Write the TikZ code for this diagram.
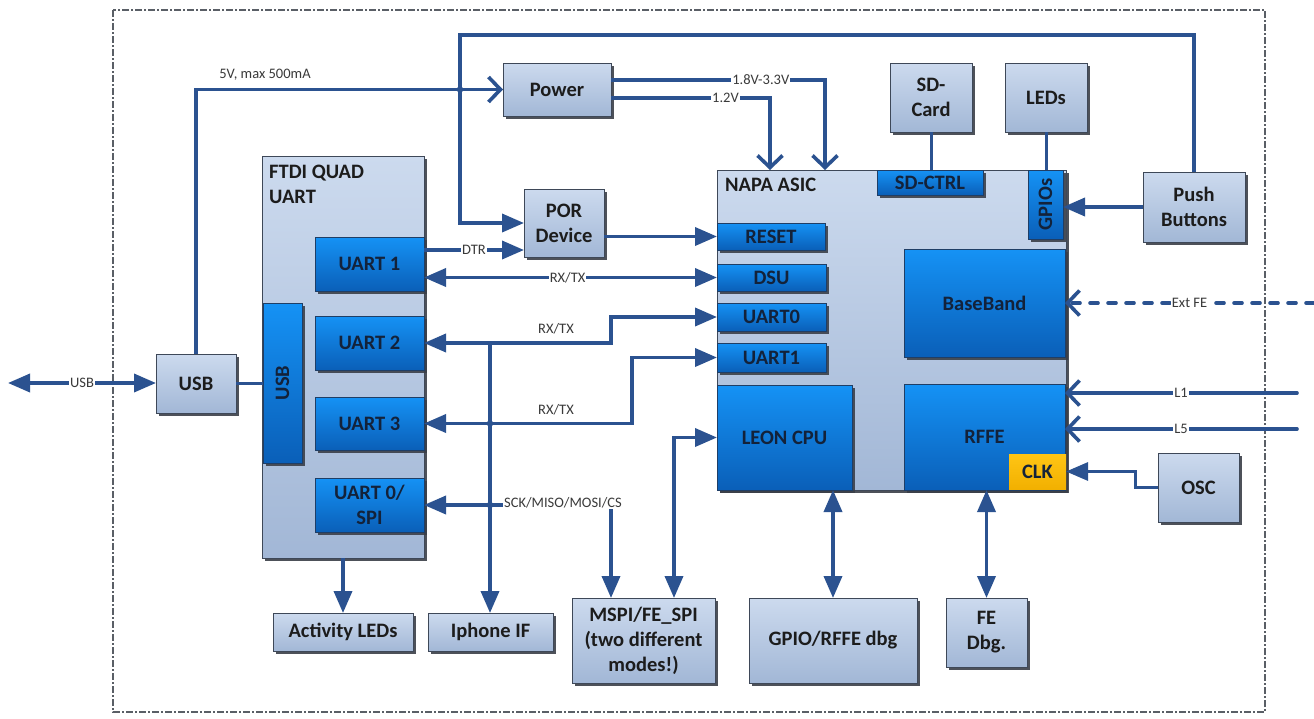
\documentclass[tikz,border=0pt]{standalone}
\usepackage{fontspec}
\setmainfont{Carlito}
\usetikzlibrary{arrows.meta,shadows}
\definecolor{ln}{HTML}{2B5290}
\definecolor{bdr}{HTML}{3E4858}
\definecolor{ltop}{HTML}{CCDAEE}
\definecolor{lbot}{HTML}{A2B7D6}
\definecolor{btop}{HTML}{1592F5}
\definecolor{bbot}{HTML}{0A5FB8}
\definecolor{bbdr}{HTML}{1F3E66}
\definecolor{shd}{HTML}{3A3F48}
\definecolor{ctop}{HTML}{FFC515}
\definecolor{cbot}{HTML}{F2B000}
\definecolor{txt}{HTML}{1C1C1C}
\definecolor{btxt}{HTML}{13223A}
\definecolor{ltxt}{HTML}{3A3A3A}
\definecolor{frame}{HTML}{5A5F66}
\newcommand{\mybox}[7]{\node[#1, minimum width={(#5-#3)*1pt}, minimum height={(#6-#4)*1pt}] (#2) at ({(#3+#5)/2},{(#4+#6)/2}) {#7};}
\tikzset{
  bigfont/.style={font=\fontsize{20.5}{25}\selectfont\bfseries},
  lbox/.style={draw=bdr, line width=0.9pt, top color=ltop, bottom color=lbot,
    drop shadow={shadow xshift=3pt, shadow yshift=-3pt, fill=shd, opacity=0.9},
    inner sep=1pt, outer sep=0pt, align=center, text=txt, bigfont},
  bbox/.style={draw=bbdr, line width=0.7pt, top color=btop, bottom color=bbot,
    drop shadow={shadow xshift=2.5pt, shadow yshift=-2.5pt, fill=shd, opacity=0.9},
    inner sep=1pt, outer sep=0pt, align=center, text=btxt, bigfont},
  cbox/.style={draw=none, top color=ctop, bottom color=cbot, inner sep=1pt, outer sep=0pt, text=btxt, bigfont},
  conn/.style={draw=ln, line width=3.6pt},
  thinconn/.style={draw=ln, line width=3pt},
  tri/.tip={Triangle[length=22pt,width=18pt]},
  chev/.tip={Straight Barb[length=12pt,width=25pt]},
  slab/.style={fill=white, inner sep=1pt, text=ltxt, font=\fontsize{14.5}{16}\selectfont},
  flab/.style={inner sep=1pt, text=ltxt, font=\fontsize{14.5}{16}\selectfont},
}
\begin{document}
\begin{tikzpicture}[x=1pt,y=-1pt]
\useasboundingbox (0,0) rectangle (1314,718);
\fill[white] (0,0) rectangle (1314,718);
% outer frame
\draw[frame, line width=1.2pt, dash pattern=on 7pt off 2pt on 2pt off 2pt] (113,10) rectangle (1265,712);

% big containers
\mybox{lbox}{ftdi}{262}{156}{424}{558}{}
\mybox{lbox}{napa}{717}{170}{1066}{490}{}
\node[anchor=north west, align=left, text=txt, bigfont, inner sep=0pt] (ftdilab) at (269,165) {FTDI QUAD\\UART};
\node[anchor=north west, text=txt, bigfont, inner sep=0pt] (napalab) at (725,178) {NAPA ASIC};

% light boxes
\mybox{lbox}{power}{503}{63}{611}{116}{Power}
\mybox{lbox}{por}{524}{189}{604}{257}{POR\\Device}
\mybox{lbox}{sdcard}{890}{63}{972}{132}{SD-\\Card}
\mybox{lbox}{leds}{1005}{63}{1087}{132}{LEDs}
\mybox{lbox}{push}{1143}{172}{1245}{242}{Push\\Buttons}
\mybox{lbox}{usb}{156}{354}{236}{413}{USB}
\mybox{lbox}{osc}{1158}{453}{1239}{522}{OSC}
\mybox{lbox}{act}{273}{613}{413}{651}{Activity LEDs}
\mybox{lbox}{iphone}{428}{613}{553}{651}{Iphone IF}
\mybox{lbox}{mspi}{572}{598}{715}{683}{MSPI/FE\_SPI\\(two different\\modes!)}
\mybox{lbox}{gdbg}{749}{598}{917}{683}{GPIO/RFFE dbg}
\mybox{lbox}{fedbg}{946}{598}{1027}{667}{FE\\Dbg.}

% FTDI blocks
\mybox{bbox}{usbi}{263}{303}{302}{463}{\rotatebox{90}{USB}}
\mybox{bbox}{uartA}{315}{237}{424}{291}{UART 1}
\mybox{bbox}{uartB}{315}{316}{424}{370}{UART 2}
\mybox{bbox}{uartC}{315}{397}{424}{450}{UART 3}
\mybox{bbox}{uspi}{315}{478}{424}{532}{UART 0/\\SPI}

% NAPA blocks
\mybox{bbox}{sdctrl}{877}{170}{983}{195}{SD-CTRL}
\mybox{bbox}{gpios}{1028}{170}{1063}{239}{\rotatebox{90}{GPIOs}}
\mybox{bbox}{reset}{717}{223}{825}{250}{RESET}
\mybox{bbox}{dsu}{717}{264}{826}{291}{DSU}
\mybox{bbox}{nuA}{717}{303}{826}{331}{UART0}
\mybox{bbox}{nuB}{717}{343}{826}{372}{UART1}
\mybox{bbox}{leon}{717}{385}{852}{490}{LEON CPU}
\mybox{bbox}{bb}{904}{249}{1065}{357}{BaseBand}
\mybox{bbox}{rffe}{904}{384}{1065}{490}{RFFE}
\mybox{cbox}{clk}{1009}{454}{1066}{489}{CLK}

% coordinates
\coordinate (tl) at (460,35);
\coordinate (p18) at (825,80);
\coordinate (p12) at (770,98);
\coordinate (j2) at (611,0);
\coordinate (j3) at (632,0);
\coordinate (j4) at (674,0);
\coordinate (j5) at (490,343);
\coordinate (j6) at (1135,0);
\coordinate (usbext) at (8,383);
\coordinate (ef) at (1314,303);
\coordinate (lA) at (1297,393);
\coordinate (lB) at (1297,429);

% USB external and to FTDI
\draw[conn, tri-tri] (usbext) -- node[slab] (usblab) {USB} (usbext -| usb.west);
\draw[conn] (usb.east) -- (usb.east -| usbi.west);
% 5V
\draw[conn, -chev] (usb.north) |- (power.west);
\node[flab] (vlab) at (265,75) {5V, max 500mA};
% Push buttons -> POR (top loop)
\draw[conn, -tri] (push.north) |- (tl) -- (tl |- por.west) -- (por.west);
\fill[ln] (460,89.5) circle (3.2pt);
% power outputs
\draw[conn, -chev] (power.east |- p18) -- node[slab, pos=0.7] (l18) {1.8V-3.3V} (p18) -- (p18 |- napa.north);
\draw[conn, -chev] (power.east |- p12) -- node[slab, pos=0.72] (l12) {1.2V} (p12) -- (p12 |- napa.north);
% SD / LEDs
\draw[thinconn] (sdcard.south) -- (sdcard.south |- sdctrl.north);
\draw[thinconn] (leds.south) -- (leds.south |- gpios.north);
\draw[conn, -tri] (push.west) -- (push.west -| gpios.east);
% POR -> RESET
\draw[conn, -tri] (por.east |- reset.west) -- (reset.west);
% DTR
\draw[conn, -tri] ([yshift=14pt]uartA.east) coordinate (d1) -- node[slab] (dtrlab) {DTR} (d1 -| por.west);
% DSU
\draw[conn, tri-tri] (uartA.east |- dsu.west) -- node[slab, pos=0.49] (rx1) {RX/TX} (dsu.west);
% UART2 -> UART0
\draw[conn, tri-tri] (uartB.east) -| (j2 |- nuA.west) -- (nuA.west);
\node[flab] (rx2) at (556,329) {RX/TX};
% UART3 -> UART1
\draw[conn, tri-tri] (uartC.east) -| (j3 |- nuB.west) -- (nuB.west);
\node[flab] (rx3) at (556,410) {RX/TX};
% iphone
\draw[conn, -tri] (j5) -- (j5 |- iphone.north);
\fill[ln] (490,423.5) circle (3.2pt);
% SPI
\draw[conn, tri-tri] (uspi.east) -| (j2 |- mspi.north);
\fill[ln] (490,505) circle (3.2pt);
\node[slab] (spilab) at (563,503) {SCK/MISO/MOSI/CS};
% LEON <-> MSPI
\draw[conn, tri-tri] (leon.west) -| (j4 |- mspi.north);
% Activity LEDs
\draw[conn, -tri] (act.north |- ftdi.south) -- (act.north);
% debug
\draw[conn, tri-tri] (gdbg.north |- napa.south) -- (gdbg.north);
\draw[conn, tri-tri] (fedbg.north |- napa.south) -- (fedbg.north);
% OSC -> CLK
\draw[thinconn, -tri] (osc.west) -| (j6 |- clk.east) -- (clk.east);
% external RF
\draw[conn, line cap=round, dash pattern=on 8pt off 10pt, -chev] (ef) -- node[slab] (eflab) {Ext FE} (ef -| bb.east);
\draw[conn, line cap=round, -chev] (lA) -- node[slab] (l1lab) {L1} (lA -| rffe.east);
\draw[conn, line cap=round, -chev] (lB) -- node[slab] (l5lab) {L5} (lB -| rffe.east);
\end{tikzpicture}
\end{document}
